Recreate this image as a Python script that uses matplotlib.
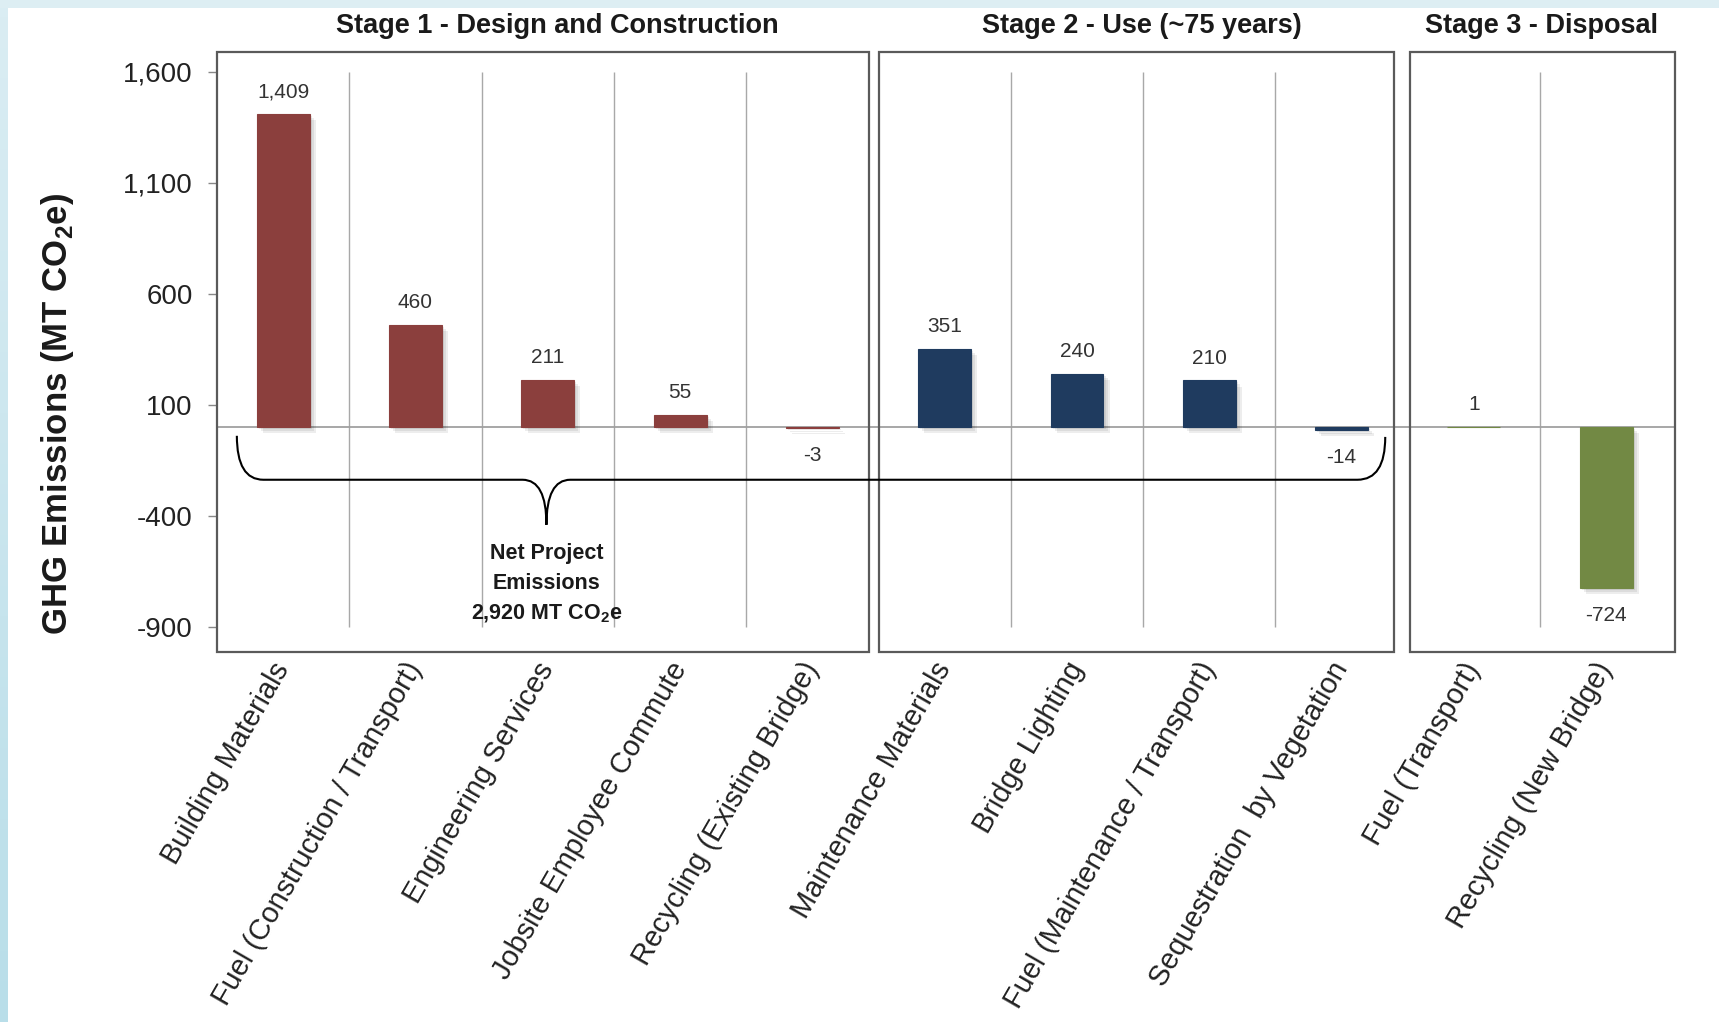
import numpy as np
import matplotlib
matplotlib.use("Agg")
import matplotlib.pyplot as plt
from matplotlib import patheffects
from matplotlib.patches import Rectangle, PathPatch
from matplotlib.path import Path
from matplotlib.ticker import FuncFormatter

plt.rcParams['font.family'] = ['Liberation Sans', 'DejaVu Sans']
plt.rcParams['mathtext.fontset'] = 'custom'
plt.rcParams['mathtext.rm'] = 'Liberation Sans'
plt.rcParams['mathtext.bf'] = 'Liberation Sans:bold'

# emissions per life-cycle item (MT CO2e)
categories = ["Building Materials", "Fuel (Construction / Transport)", "Engineering Services",
              "Jobsite Employee Commute", "Recycling (Existing Bridge)", "Maintenance Materials",
              "Bridge Lighting", "Fuel (Maintenance / Transport)", "Sequestration  by Vegetation",
              "Fuel (Transport)", "Recycling (New Bridge)"]
values = [1409, 460, 211, 55, -3, 351, 240, 210, -14, 1, -724]
stage = [0, 0, 0, 0, 0, 1, 1, 1, 1, 2, 2]

stage_titles = ["Stage 1 - Design and Construction", "Stage 2 - Use (~75 years)", "Stage 3 - Disposal"]
stage_colors = ["#8B3F3D", "#1F3B5F", "#728944"]
y_ticks = [-900, -400, 100, 600, 1100, 1600]
net_label = "Net Project\nEmissions\n2,920 MT CO$_\\mathbf{2}$e"

W, H = 1719, 1022
fig = plt.figure(figsize=(W / 100, H / 100), dpi=100)
fig.patch.set_facecolor("white")

# light blue page edge (top strip + left strip with a soft gradient)
fig.patches.append(Rectangle((0, 1 - 8 / H), 1, 8 / H, transform=fig.transFigure,
                             facecolor="#DDEEF3", edgecolor="none"))
edge = fig.add_axes([0, 0, 7 / W, 1 - 8 / H])
edge.imshow(np.linspace(0, 1, 100).reshape(-1, 1), cmap=matplotlib.colors.LinearSegmentedColormap.from_list(
    "edge", ["#DAEDF3", "#B9DEE9"]), aspect="auto")
edge.axis("off")

ax = fig.add_axes([217 / W, 1 - 652 / H, 1458 / W, 600 / H])
x = np.arange(len(values))
ymin, ymax = -1014, 1689
xmin, xmax = -0.5, 10.52
ax.set_xlim(xmin, xmax)
ax.set_ylim(ymin, ymax)
for s in ax.spines.values():
    s.set_visible(False)

# vertical separators inside each stage
grid_x = [i + 0.5 for i in range(len(values) - 1) if stage[i] == stage[i + 1]]
ax.vlines(grid_x, y_ticks[0], y_ticks[-1], color="#A8A8A8", lw=1.0, zorder=1)
ax.hlines(0, xmin, xmax, color="#A0A0A0", lw=1.3, zorder=1, clip_on=False)

# stage frames
frames = [(-0.5, 4.428), (4.504, 8.397), (8.517, 10.52)]
for (x0, x1) in frames:
    ax.add_patch(Rectangle((x0, ymin), x1 - x0, ymax - ymin, fill=False,
                           edgecolor="#5A5A5A", lw=1.6, clip_on=False, zorder=3))

shadow = [patheffects.SimplePatchShadow(offset=(d, -d), shadow_rgbFace="black", alpha=0.07)
          for d in (1.5, 3.0, 4.5)] + [patheffects.Normal()]
colors = [stage_colors[s] for s in stage]
bars = ax.bar(x, values, width=0.4, color=colors, edgecolor=colors, lw=0.8, zorder=2)
for b in bars:
    b.set_path_effects(shadow)

for xi, v in zip(x, values):
    ax.annotate(f"{v:,}", (xi, v), xytext=(0, 16 if v > 0 else -20), textcoords="offset points",
                ha="center", va="center", fontsize=15, color="#333333")

# stage titles above the frames
title_x = [2.07, 6.49, 9.51]
for tx, t in zip(title_x, stage_titles):
    ax.text(tx, 1.043, t, transform=ax.get_xaxis_transform(), ha="center", va="center",
            fontsize=19.5, fontweight="bold", color="#1A1A1A")

# brace grouping stages 1 and 2
yt, yh, ytip = -40, -238, -441
xl, xl2, xm1, xt, xm2, xr2, xr = -0.35, -0.15, 1.81, 1.99, 2.17, 8.12, 8.33
verts = [(xl, yt), (xl, yh), (xl2, yh), (xm1, yh), (xt, yh), (xt, ytip),
         (xt, yh), (xm2, yh), (xr2, yh), (xr, yh), (xr, yt - 5)]
codes = [Path.MOVETO, Path.CURVE3, Path.CURVE3, Path.LINETO, Path.CURVE3, Path.CURVE3,
         Path.CURVE3, Path.CURVE3, Path.LINETO, Path.CURVE3, Path.CURVE3]
ax.add_patch(PathPatch(Path(verts, codes), fill=False, edgecolor="black", lw=1.5, zorder=4))
ax.text(xt, -707, net_label, ha="center", va="center", fontsize=15.5, fontweight="bold",
        linespacing=1.55, color="#1A1A1A", zorder=4)

ax.set_yticks(y_ticks)
ax.yaxis.set_major_formatter(FuncFormatter(lambda v, p: f"{int(v):,}"))
ax.tick_params(axis="y", length=6.5, width=1, color="#888888", pad=11, labelsize=20, labelcolor="#222222")
ax.set_xticks(x)
ax.set_xticklabels(categories, rotation=60, ha="right", va="center", rotation_mode="anchor",
                   fontsize=20.8, color="#222222")
ax.tick_params(axis="x", length=0, pad=9)

ax.set_ylabel("GHG Emissions (MT CO$_\\mathbf{2}$e)", fontsize=25, fontweight="bold", color="#1A1A1A")
ax.yaxis.set_label_coords(-0.097, 0.397)

fig.savefig("out.png", dpi=100)
